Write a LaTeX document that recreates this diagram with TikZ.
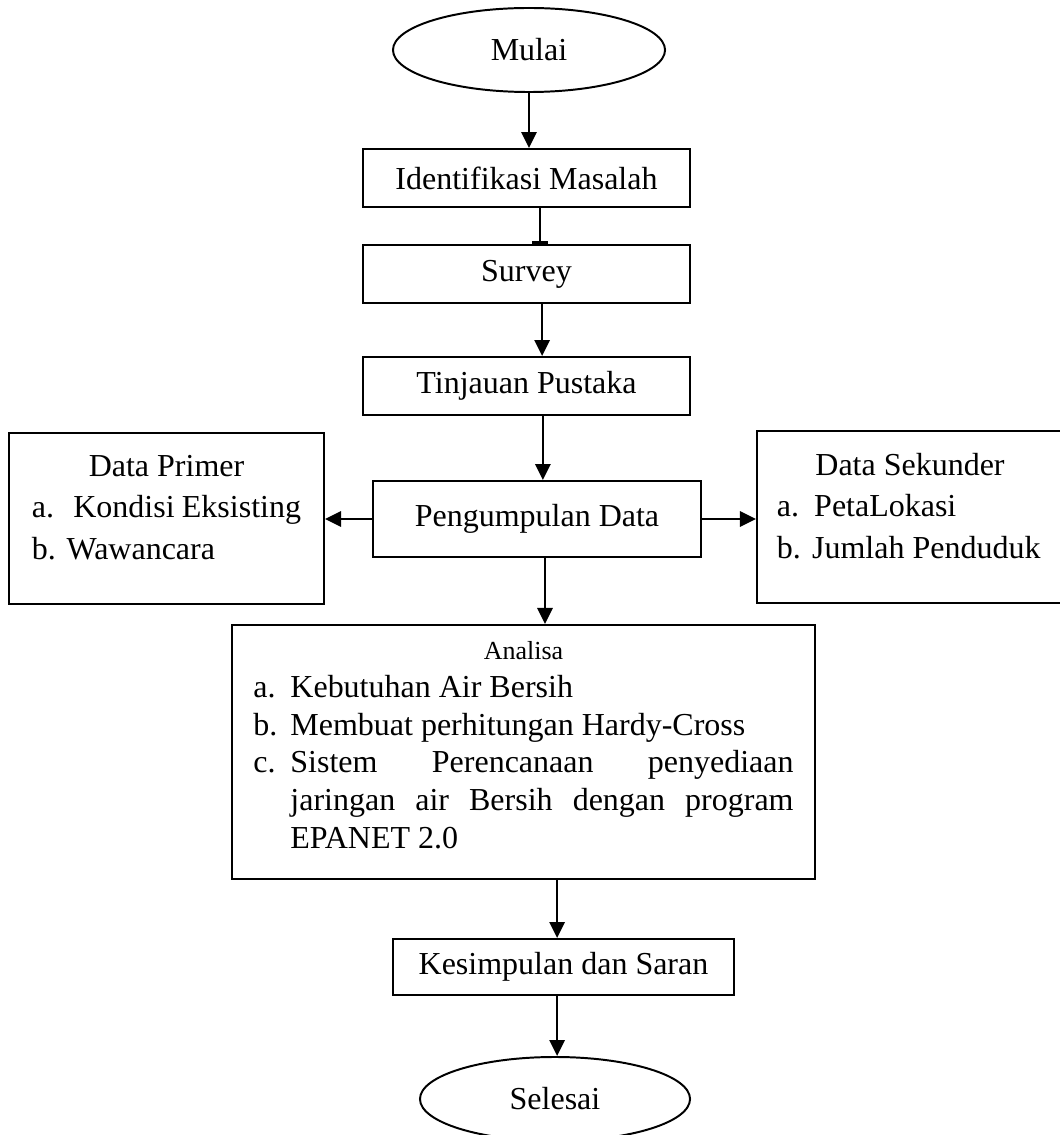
\documentclass[tikz,border=0pt]{standalone}
\usepackage{fontspec}
\setmainfont{Liberation Serif}
\usetikzlibrary{shapes.geometric}
\usetikzlibrary{arrows.meta}

\begin{document}
\begin{tikzpicture}[x=0.025cm, y=-0.025cm,
  font=\fontsize{22.75}{29.5}\selectfont,
  box/.style={draw, line width=1.4pt, inner sep=0pt},
  oval/.style={draw, ellipse, line width=1.4pt, inner sep=0pt, minimum height=2.1cm},
  arr/.style={line width=1.8pt, -{Triangle[length=0.4cm, width=0.38cm]}},
  bararr/.style={line width=1.8pt, -{Bar[width=0.4cm, line width=2.2pt]}}]
\useasboundingbox (0,0) rectangle (1059,1135);
\node[oval, minimum width=6.8cm] (mulai) at (529,50) {Mulai};
\node[box, minimum width=8.175cm, minimum height=1.45cm] (ident) at (526.5,178) {Identifikasi Masalah};
\node[box, minimum width=8.175cm, minimum height=1.45cm] (survey) at (526.5,274) {Survey};
\node[box, minimum width=8.175cm, minimum height=1.45cm] (tinjau) at (526.5,386) {Tinjauan Pustaka};
\node[box, minimum width=8.2cm, minimum height=1.9cm] (kumpul) at (537,519) {Pengumpulan Data};
\node[box, minimum width=7.875cm] (primer) at (166.5,518.5) {\parbox[c][4.275cm][t]{6.725cm}{\vspace*{0.55cm}%
  \centering Data Primer\par
  \raggedright a.\hspace{0.6em}Kondisi Eksisting\par
  b. Wawancara\par}};
\node[box, minimum width=7.65cm] (sekunder) at (910,517) {\parbox[c][4.3cm][t]{6.65cm}{\vspace*{0.55cm}%
  \centering Data Sekunder\par
  \raggedright a.\hspace{0.47em}PetaLokasi\par
  b.\hspace{0.35em}Jumlah Penduduk\par}};
\node[box, minimum width=14.575cm] (analisa) at (523.5,752) {\parbox[c][6.35cm][t]{13.5cm}{\fontsize{22.75}{26.8}\selectfont\vspace*{0.42cm}%
  \centering{\fontsize{18.5}{22}\selectfont Analisa\par}
  \raggedright
  \hangindent=0.925cm\makebox[0.925cm][l]{a.}Kebutuhan Air Bersih\par
  \hangindent=0.925cm\makebox[0.925cm][l]{b.}Membuat perhitungan Hardy-Cross\par
  \hangindent=0.925cm\makebox[0.925cm][l]{c.}\makebox[12.575cm][s]{Sistem Perencanaan penyediaan}\newline
  \makebox[12.575cm][s]{jaringan air Bersih dengan program}\newline
  EPANET 2.0\par}};
\node[box, minimum width=8.525cm, minimum height=1.4cm] (simpul) at (563.5,967) {Kesimpulan dan Saran};
\node[oval, minimum width=6.75cm] (selesai) at (555,1099) {Selesai};

\draw[arr] (mulai.south) -- (mulai.south |- ident.north);
\draw[bararr] ([xshift=0.34cm]ident.south) -- ([xshift=0.34cm]ident.south |- survey.north);
\draw[arr] ([xshift=0.39cm]survey.south) -- ([xshift=0.39cm]survey.south |- tinjau.north);
\draw[arr] ([xshift=0.41cm]tinjau.south) -- ([xshift=0.41cm]tinjau.south |- kumpul.north);
\draw[arr] (kumpul.west) -- (kumpul.west -| primer.east);
\draw[arr] (kumpul.east) -- (kumpul.east -| sekunder.west);
\draw[arr] ([xshift=0.2cm]kumpul.south) -- ([xshift=0.2cm]kumpul.south |- analisa.north);
\draw[arr] ([xshift=0.84cm]analisa.south) -- ([xshift=0.84cm]analisa.south |- simpul.north);
\draw[arr] ([xshift=-0.16cm]simpul.south) -- ([xshift=-0.16cm]simpul.south |- selesai.north);
\end{tikzpicture}
\end{document}
